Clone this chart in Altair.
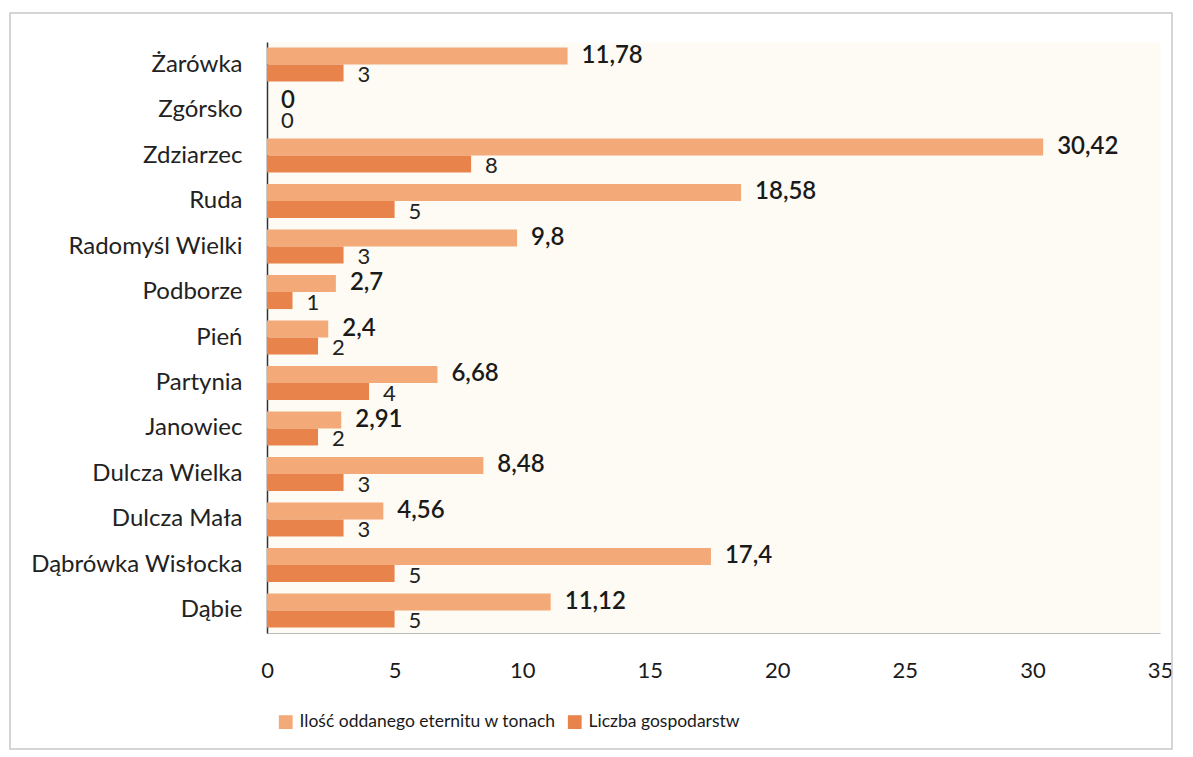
import altair as alt
import pandas as pd

categories = ["Żarówka", "Zgórsko", "Zdziarzec", "Ruda", "Radomyśl Wielki", "Podborze",
              "Pień", "Partynia", "Janowiec", "Dulcza Wielka", "Dulcza Mała",
              "Dąbrówka Wisłocka", "Dąbie"]
tons = [11.78, 0, 30.42, 18.58, 9.8, 2.7, 2.4, 6.68, 2.91, 8.48, 4.56, 17.4, 11.12]
households = [3, 0, 8, 5, 3, 1, 2, 4, 2, 3, 3, 5, 5]
series_names = ["Ilość oddanego eternitu w tonach", "Liczba gospodarstw"]
x_ticks = [0, 5, 10, 15, 20, 25, 30, 35]

LIGHT = "#F4AA78"
DARK = "#E8834B"
FONT = "Lato"

rows = []
for c, t, h in zip(categories, tons, households):
    rows.append({"cat": c, "series": series_names[0], "value": t,
                 "label": f"{t:g}".replace(".", ",")})
    rows.append({"cat": c, "series": series_names[1], "value": h,
                 "label": f"{h:g}".replace(".", ",")})
df = pd.DataFrame(rows)

y_enc = alt.Y("cat:N", sort=categories,
              scale=alt.Scale(paddingInner=0.25, paddingOuter=0.12),
              axis=alt.Axis(title=None, ticks=False, labelPadding=25, labelFontSize=24,
                            labelColor="#222", labelFont=FONT, domainColor="#333",
                            domainWidth=1.5, labelLimit=400))
yoff = alt.YOffset("series:N", sort=series_names)
x_enc = alt.X("value:Q", scale=alt.Scale(domain=[0, 35], nice=False),
              axis=alt.Axis(title=None, values=x_ticks, ticks=False, grid=False,
                            labelPadding=27, labelFontSize=22, labelColor="#1a1a1a",
                            labelFont=FONT, domainColor="#bbbbbb", labelFlush=False))

bars = alt.Chart(df).mark_bar(height={"band": 1}).encode(
    y=y_enc, yOffset=yoff, x=x_enc,
    color=alt.Color("series:N", sort=series_names,
                    scale=alt.Scale(domain=series_names, range=[LIGHT, DARK]),
                    legend=alt.Legend(title=None, orient="none", legendX=10, legendY=671,
                                      direction="horizontal", symbolType="square",
                                      symbolSize=190, symbolStrokeWidth=0,
                                      labelFontSize=17.5, labelFont=FONT, labelColor="#1a1a1a",
                                      labelLimit=600, columnPadding=10, labelOffset=5,
                                      symbolOpacity=1)),
)

txt_tons = alt.Chart(df).transform_filter(
    alt.datum.series == series_names[0]
).mark_text(align="left", baseline="middle", dx=14, fontSize=24, fontWeight=600,
            font=FONT, color="#1a1a1a").encode(
    y=alt.Y("cat:N", sort=categories), yOffset=yoff, x="value:Q", text="label:N")

txt_hh = alt.Chart(df).transform_filter(
    alt.datum.series == series_names[1]
).mark_text(align="left", baseline="middle", dx=14, dy=2, fontSize=22,
            font=FONT, color="#222").encode(
    y=alt.Y("cat:N", sort=categories), yOffset=yoff, x="value:Q", text="label:N")

frame = alt.Chart(alt.Data(values=[{"a": 1}])).mark_rect(
    fill=None, stroke="#c8c8c8", strokeWidth=1.5).encode(
    x=alt.value(-257), x2=alt.value(905), y=alt.value(-29), y2=alt.value(707))

chart = alt.layer(bars, txt_tons, txt_hh, frame).properties(
    width=893, height=591,
    autosize=alt.AutoSizeParams(type="none"),
    padding={"left": 259, "top": 34, "right": 20, "bottom": 120},
    view=alt.ViewBackground(fill="#FDFBF4", stroke="transparent", strokeOpacity=0),
).configure_view(fill="#FDFBF4", stroke="transparent", strokeOpacity=0).configure(background="white")

chart.save("out.html", embed_options={"renderer": "svg", "actions": False})
